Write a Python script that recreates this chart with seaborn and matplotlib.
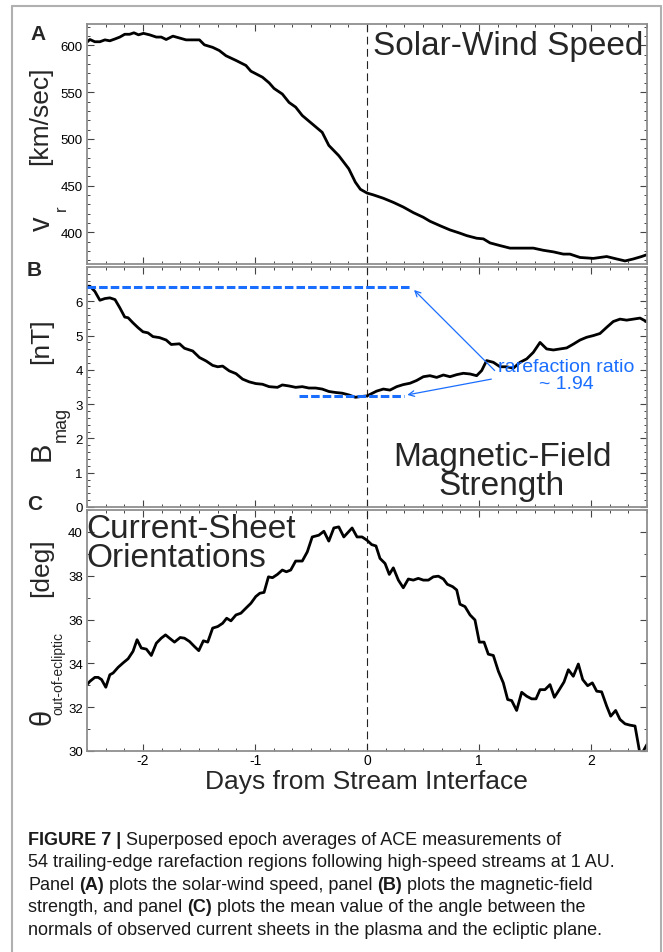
import numpy as np
import pandas as pd
import matplotlib
matplotlib.use("Agg")
import matplotlib.pyplot as plt
import seaborn as sns
from matplotlib.ticker import MultipleLocator, FixedLocator
from matplotlib.lines import Line2D

sns.set_style("ticks")
plt.rcParams['font.family'] = ['Liberation Sans', 'DejaVu Sans']

# ---------------- data ----------------
speed_days = [-2.50, -2.474, -2.43, -2.385, -2.34, -2.296, -2.25, -2.207, -2.163, -2.119,
              -2.081, -2.04, -1.996, -1.941, -1.881, -1.837, -1.793, -1.733, -1.674, -1.615,
              -1.496, -1.452, -1.378, -1.319, -1.259, -1.17, -1.081, -1.037, -0.933, -0.874,
              -0.83, -0.756, -0.696, -0.637, -0.578, -0.489, -0.4, -0.341, -0.252, -0.163,
              -0.104, -0.059, 0.0, 0.057, 0.146, 0.235, 0.324, 0.414, 0.503, 0.562,
              0.652, 0.741, 0.830, 0.890, 0.979, 1.039, 1.098, 1.188, 1.277, 1.366,
              1.485, 1.574, 1.664, 1.753, 1.812, 1.902, 2.021, 2.140, 2.229, 2.304,
              2.378, 2.452, 2.50]
speed_vals = [603.6, 606.4, 604, 604, 606, 605, 607, 609, 612, 612,
              613.6, 611.4, 613, 611.4, 609, 609, 606.4, 610, 608, 606,
              606, 600.7, 598, 594.6, 589, 584, 578.6, 572.5, 566, 560,
              554, 548, 539, 534, 525, 516, 507, 493, 482, 468,
              453.6, 446, 442, 440, 436.4, 432, 427, 421, 416, 411.8,
              407, 402.5, 399, 396.4, 393.6, 392.9, 388.6, 385.7, 383, 383,
              383, 380.7, 379, 376.6, 376.6, 373, 372, 374, 371.4, 369.3,
              371.4, 374, 376]

bmag_days = [-2.50, -2.474, -2.43, -2.385, -2.34, -2.296, -2.25, -2.207, -2.163, -2.133,
             -2.089, -2.044, -2.0, -1.956, -1.911, -1.852, -1.793, -1.748, -1.674, -1.630,
             -1.556, -1.496, -1.437, -1.378, -1.333, -1.289, -1.230, -1.170, -1.111, -1.052,
             -0.993, -0.933, -0.874, -0.800, -0.756, -0.696, -0.637, -0.578, -0.519, -0.459,
             -0.4, -0.341, -0.281, -0.222, -0.163, -0.104, -0.059, 0.0, 0.086, 0.146,
             0.205, 0.265, 0.324, 0.384, 0.443, 0.503, 0.562, 0.622, 0.682, 0.741,
             0.801, 0.860, 0.920, 0.979, 1.024, 1.068, 1.128, 1.188, 1.247, 1.307,
             1.366, 1.426, 1.485, 1.545, 1.604, 1.664, 1.723, 1.783, 1.842, 1.902,
             1.961, 2.021, 2.080, 2.140, 2.199, 2.259, 2.318, 2.378, 2.438, 2.50]
bmag_vals = [6.44, 6.44, 6.29, 6.03, 6.08, 6.10, 6.05, 5.81, 5.54, 5.52,
             5.37, 5.23, 5.11, 5.08, 4.97, 4.94, 4.87, 4.74, 4.76, 4.63,
             4.55, 4.36, 4.26, 4.13, 4.09, 4.11, 3.97, 3.89, 3.73, 3.65,
             3.60, 3.58, 3.51, 3.49, 3.56, 3.53, 3.49, 3.51, 3.47, 3.47,
             3.44, 3.37, 3.34, 3.32, 3.27, 3.20, 3.22, 3.24, 3.38, 3.44,
             3.41, 3.51, 3.57, 3.61, 3.69, 3.80, 3.83, 3.78, 3.85, 3.80,
             3.86, 3.90, 3.88, 3.83, 3.98, 4.27, 4.22, 4.09, 4.09, 4.05,
             4.22, 4.32, 4.51, 4.80, 4.61, 4.58, 4.61, 4.64, 4.75, 4.87,
             4.95, 5.00, 5.06, 5.24, 5.41, 5.48, 5.45, 5.48, 5.51, 5.40]

theta_days = [-2.50, -2.474, -2.43, -2.40, -2.37, -2.332, -2.296, -2.267, -2.222, -2.178,
              -2.133, -2.089, -2.053, -2.015, -1.970, -1.926, -1.881, -1.837, -1.799, -1.763,
              -1.719, -1.668, -1.630, -1.585, -1.541, -1.502, -1.461, -1.422, -1.378, -1.333,
              -1.289, -1.253, -1.215, -1.170, -1.126, -1.081, -1.037, -0.993, -0.957, -0.919,
              -0.880, -0.844, -0.800, -0.756, -0.720, -0.681, -0.637, -0.578, -0.533, -0.489,
              -0.430, -0.385, -0.341, -0.296, -0.252, -0.207, -0.133, -0.089, -0.044, 0.0,
              0.042, 0.080, 0.116, 0.161, 0.199, 0.235, 0.280, 0.324, 0.369, 0.414,
              0.458, 0.503, 0.548, 0.592, 0.637, 0.682, 0.717, 0.765, 0.801, 0.830,
              0.875, 0.920, 0.964, 1.003, 1.045, 1.083, 1.128, 1.173, 1.217, 1.256,
              1.292, 1.336, 1.381, 1.426, 1.470, 1.509, 1.545, 1.589, 1.634, 1.673,
              1.717, 1.759, 1.798, 1.842, 1.887, 1.926, 1.970, 2.012, 2.051, 2.095,
              2.140, 2.176, 2.220, 2.259, 2.304, 2.348, 2.393, 2.438, 2.467, 2.50]
theta_vals = [33.03, 33.18, 33.36, 33.36, 33.26, 32.91, 33.48, 33.56, 33.82, 34.02,
              34.21, 34.55, 35.08, 34.70, 34.65, 34.36, 34.92, 35.15, 35.30, 35.15,
              34.97, 35.18, 35.15, 35.00, 34.77, 34.58, 35.03, 34.97, 35.61, 35.68,
              35.83, 36.06, 35.94, 36.21, 36.29, 36.52, 36.74, 37.05, 37.20, 37.24,
              37.95, 37.91, 38.06, 38.26, 38.18, 38.26, 38.67, 38.67, 39.09, 39.77,
              39.85, 40.03, 39.58, 40.18, 40.23, 39.77, 40.18, 39.77, 39.77, 39.62,
              39.42, 39.36, 38.79, 38.56, 38.06, 38.36, 37.80, 37.45, 37.85, 37.80,
              37.88, 37.80, 37.80, 37.95, 37.98, 37.85, 37.61, 37.50, 37.35, 36.70,
              36.59, 36.21, 35.98, 34.97, 34.97, 34.42, 34.36, 33.64, 33.11, 32.35,
              32.30, 31.85, 32.68, 32.50, 32.38, 32.38, 32.80, 32.80, 33.03, 32.45,
              32.80, 33.15, 33.71, 33.41, 33.97, 33.26, 32.98, 33.11, 32.73, 32.70,
              32.05, 31.59, 31.85, 31.44, 31.24, 31.18, 31.14, 29.85, 30.0, 30.3]

# rarefaction-ratio markers in panel B
ratio_levels = [6.43, 3.23]
ratio_x_start = [-2.5, -0.61]
ratio_x_end = [0.40, 0.33]
ratio_label = "rarefaction ratio\n~ 1.94"

day_ticks = [-2, -1, 0, 1, 2]
panel_titles = ["Solar-Wind Speed", "Magnetic-Field\nStrength", "Current-Sheet\nOrientations"]
panel_letters = ["A", "B", "C"]

caption_lines = [
    [("FIGURE 7 |", True), ("Superposed epoch averages of ACE measurements of", False)],
    [("54 trailing-edge rarefaction regions following high-speed streams at 1 AU.", False)],
    [("Panel", False), ("(A)", True), ("plots the solar-wind speed, panel", False), ("(B)", True),
     ("plots the magnetic-field", False)],
    [("strength, and panel", False), ("(C)", True), ("plots the mean value of the angle between the", False)],
    [("normals of observed current sheets in the plasma and the ecliptic plane.", False)],
]

# ---------------- figure ----------------
W, H = 663, 953
fig = plt.figure(figsize=(W / 100, H / 100), dpi=100)
fig.patch.set_facecolor("white")


def rect(left, top, right, bottom):
    return [left / W, 1 - bottom / H, (right - left) / W, (bottom - top) / H]


def fx(x):
    return x / W


def fy(y):
    return 1 - y / H


axA = fig.add_axes(rect(87, 25, 647, 265))
axB = fig.add_axes(rect(87, 268, 647, 508))
axC = fig.add_axes(rect(87, 511, 647, 752))

dfA = pd.DataFrame({"day": speed_days, "val": speed_vals})
dfB = pd.DataFrame({"day": bmag_days, "val": bmag_vals})
dfC = pd.DataFrame({"day": theta_days, "val": theta_vals})

for ax, df in [(axA, dfA), (axB, dfB), (axC, dfC)]:
    sns.lineplot(data=df, x="day", y="val", ax=ax, color="black", lw=2.0,
                 estimator=None, sort=False)

axA.set_ylim(366, 623)
axB.set_ylim(0, 7)
axC.set_ylim(30, 41)

axA.yaxis.set_major_locator(MultipleLocator(50))
axA.yaxis.set_minor_locator(MultipleLocator(10))
axB.yaxis.set_major_locator(FixedLocator([0, 1, 2, 3, 4, 5, 6]))
axB.yaxis.set_minor_locator(MultipleLocator(0.2))
axC.yaxis.set_major_locator(MultipleLocator(2))
axC.yaxis.set_minor_locator(MultipleLocator(1))

blue = "#1a6eff"
for ax in (axA, axB, axC):
    ax.set_xlim(-2.5, 2.5)
    ax.xaxis.set_major_locator(FixedLocator(day_ticks))
    ax.xaxis.set_minor_locator(MultipleLocator(1 / 6))
    ax.tick_params(which="both", direction="in", top=True, right=True,
                   color="#444444", labelsize=9.5, labelcolor="black", pad=3)
    ax.tick_params(which="major", length=5, width=0.8)
    ax.tick_params(which="minor", length=2.5, width=0.7)
    for s in ax.spines.values():
        s.set_color("#8f8f8f")
        s.set_linewidth(1.3)
    ax.axvline(0, color="#222222", lw=0.8, ls=(0, (7, 4)), zorder=1)
    ax.set_xlabel("")
    ax.set_ylabel("")

axA.tick_params(labelbottom=False)
axB.tick_params(labelbottom=False)
axC.set_xticklabels([str(t) for t in day_ticks])
axC.tick_params(axis="x", labelsize=10, pad=1.5)

# rarefaction ratio lines and arrows
for lvl, x0, x1 in zip(ratio_levels, ratio_x_start, ratio_x_end):
    axB.plot([x0, x1], [lvl, lvl], color=blue, lw=2.2, ls=(0, (2.8, 1.0)), zorder=3)
axB.annotate("", xy=(ratio_x_end[0] + 0.02, ratio_levels[0] - 0.1), xytext=(1.14, 3.98),
             arrowprops=dict(arrowstyle="->", color=blue, lw=0.9, shrinkA=0, shrinkB=0))
axB.annotate("", xy=(ratio_x_end[1] + 0.03, ratio_levels[1] + 0.04), xytext=(1.11, 3.73),
             arrowprops=dict(arrowstyle="->", color=blue, lw=0.9, shrinkA=0, shrinkB=0))
axB.text(1.78, 3.86, ratio_label, color=blue, fontsize=14, ha="center", va="center",
         linespacing=1.0)

# panel titles
fig.text(fx(508), fy(47), panel_titles[0], fontsize=24, ha="center", va="center")
fig.text(fx(502), fy(472), panel_titles[1], fontsize=24, ha="center", va="center",
         linespacing=0.95, multialignment="center")
fig.text(fx(86), fy(544), panel_titles[2], fontsize=24, ha="left", va="center",
         linespacing=0.95)

# panel letters
fig.text(fx(38), fy(35), panel_letters[0], fontsize=15, fontweight="bold", ha="center", va="center")
fig.text(fx(34), fy(270), panel_letters[1], fontsize=15, fontweight="bold", ha="center", va="center")
fig.text(fx(35), fy(505), panel_letters[2], fontsize=15, fontweight="bold", ha="center", va="center")

# y labels (rotated pieces)
fig.text(fx(40), fy(116), "[km/sec]", fontsize=19, rotation=90, ha="center", va="center")
fig.text(fx(42), fy(224), "v", fontsize=21, rotation=90, ha="center", va="center")
fig.text(fx(61), fy(208), "r", fontsize=12, rotation=90, ha="center", va="center")

fig.text(fx(41), fy(341), "[nT]", fontsize=19, rotation=90, ha="center", va="center")
fig.text(fx(42), fy(451), "B", fontsize=21, rotation=90, ha="center", va="center")
fig.text(fx(61), fy(424), "mag", fontsize=13, rotation=90, ha="center", va="center")

fig.text(fx(41), fy(568), "[deg]", fontsize=19, rotation=90, ha="center", va="center")
fig.text(fx(42), fy(717), "θ", fontsize=21, rotation=90, ha="center", va="center")
fig.text(fx(58), fy(674), "out-of-ecliptic", fontsize=10, rotation=90, ha="center", va="center")

# x label
fig.text(fx(366), fy(782), "Days from Stream Interface", fontsize=19, ha="center", va="center")

# outer frame
frame_col = "#b0b0b0"
fig.add_artist(Line2D([fx(12), fx(12)], [fy(7), fy(953)], color=frame_col, lw=1.5,
                      transform=fig.transFigure))
fig.add_artist(Line2D([fx(12), fx(661)], [fy(7), fy(7)], color=frame_col, lw=1.5,
                      transform=fig.transFigure))
fig.add_artist(Line2D([fx(661), fx(661)], [fy(7), fy(953)], color=frame_col, lw=1.5,
                      transform=fig.transFigure))

# caption with mixed weights
fig.canvas.draw()
renderer = fig.canvas.get_renderer()
cap_size = 13.0
space_px = 0.278 * cap_size * 100 / 72
baselines = [845, 867.5, 890, 912.5, 935]
for yb, parts in zip(baselines, caption_lines):
    x = 28
    for i, (txt, bold) in enumerate(parts):
        t = fig.text(fx(x), fy(yb), txt, fontsize=cap_size,
                     fontweight="bold" if bold else "normal",
                     ha="left", va="baseline", color="#1a1a1a")
        x += t.get_window_extent(renderer).width + space_px

fig.savefig("out.png", dpi=100, facecolor="white")
